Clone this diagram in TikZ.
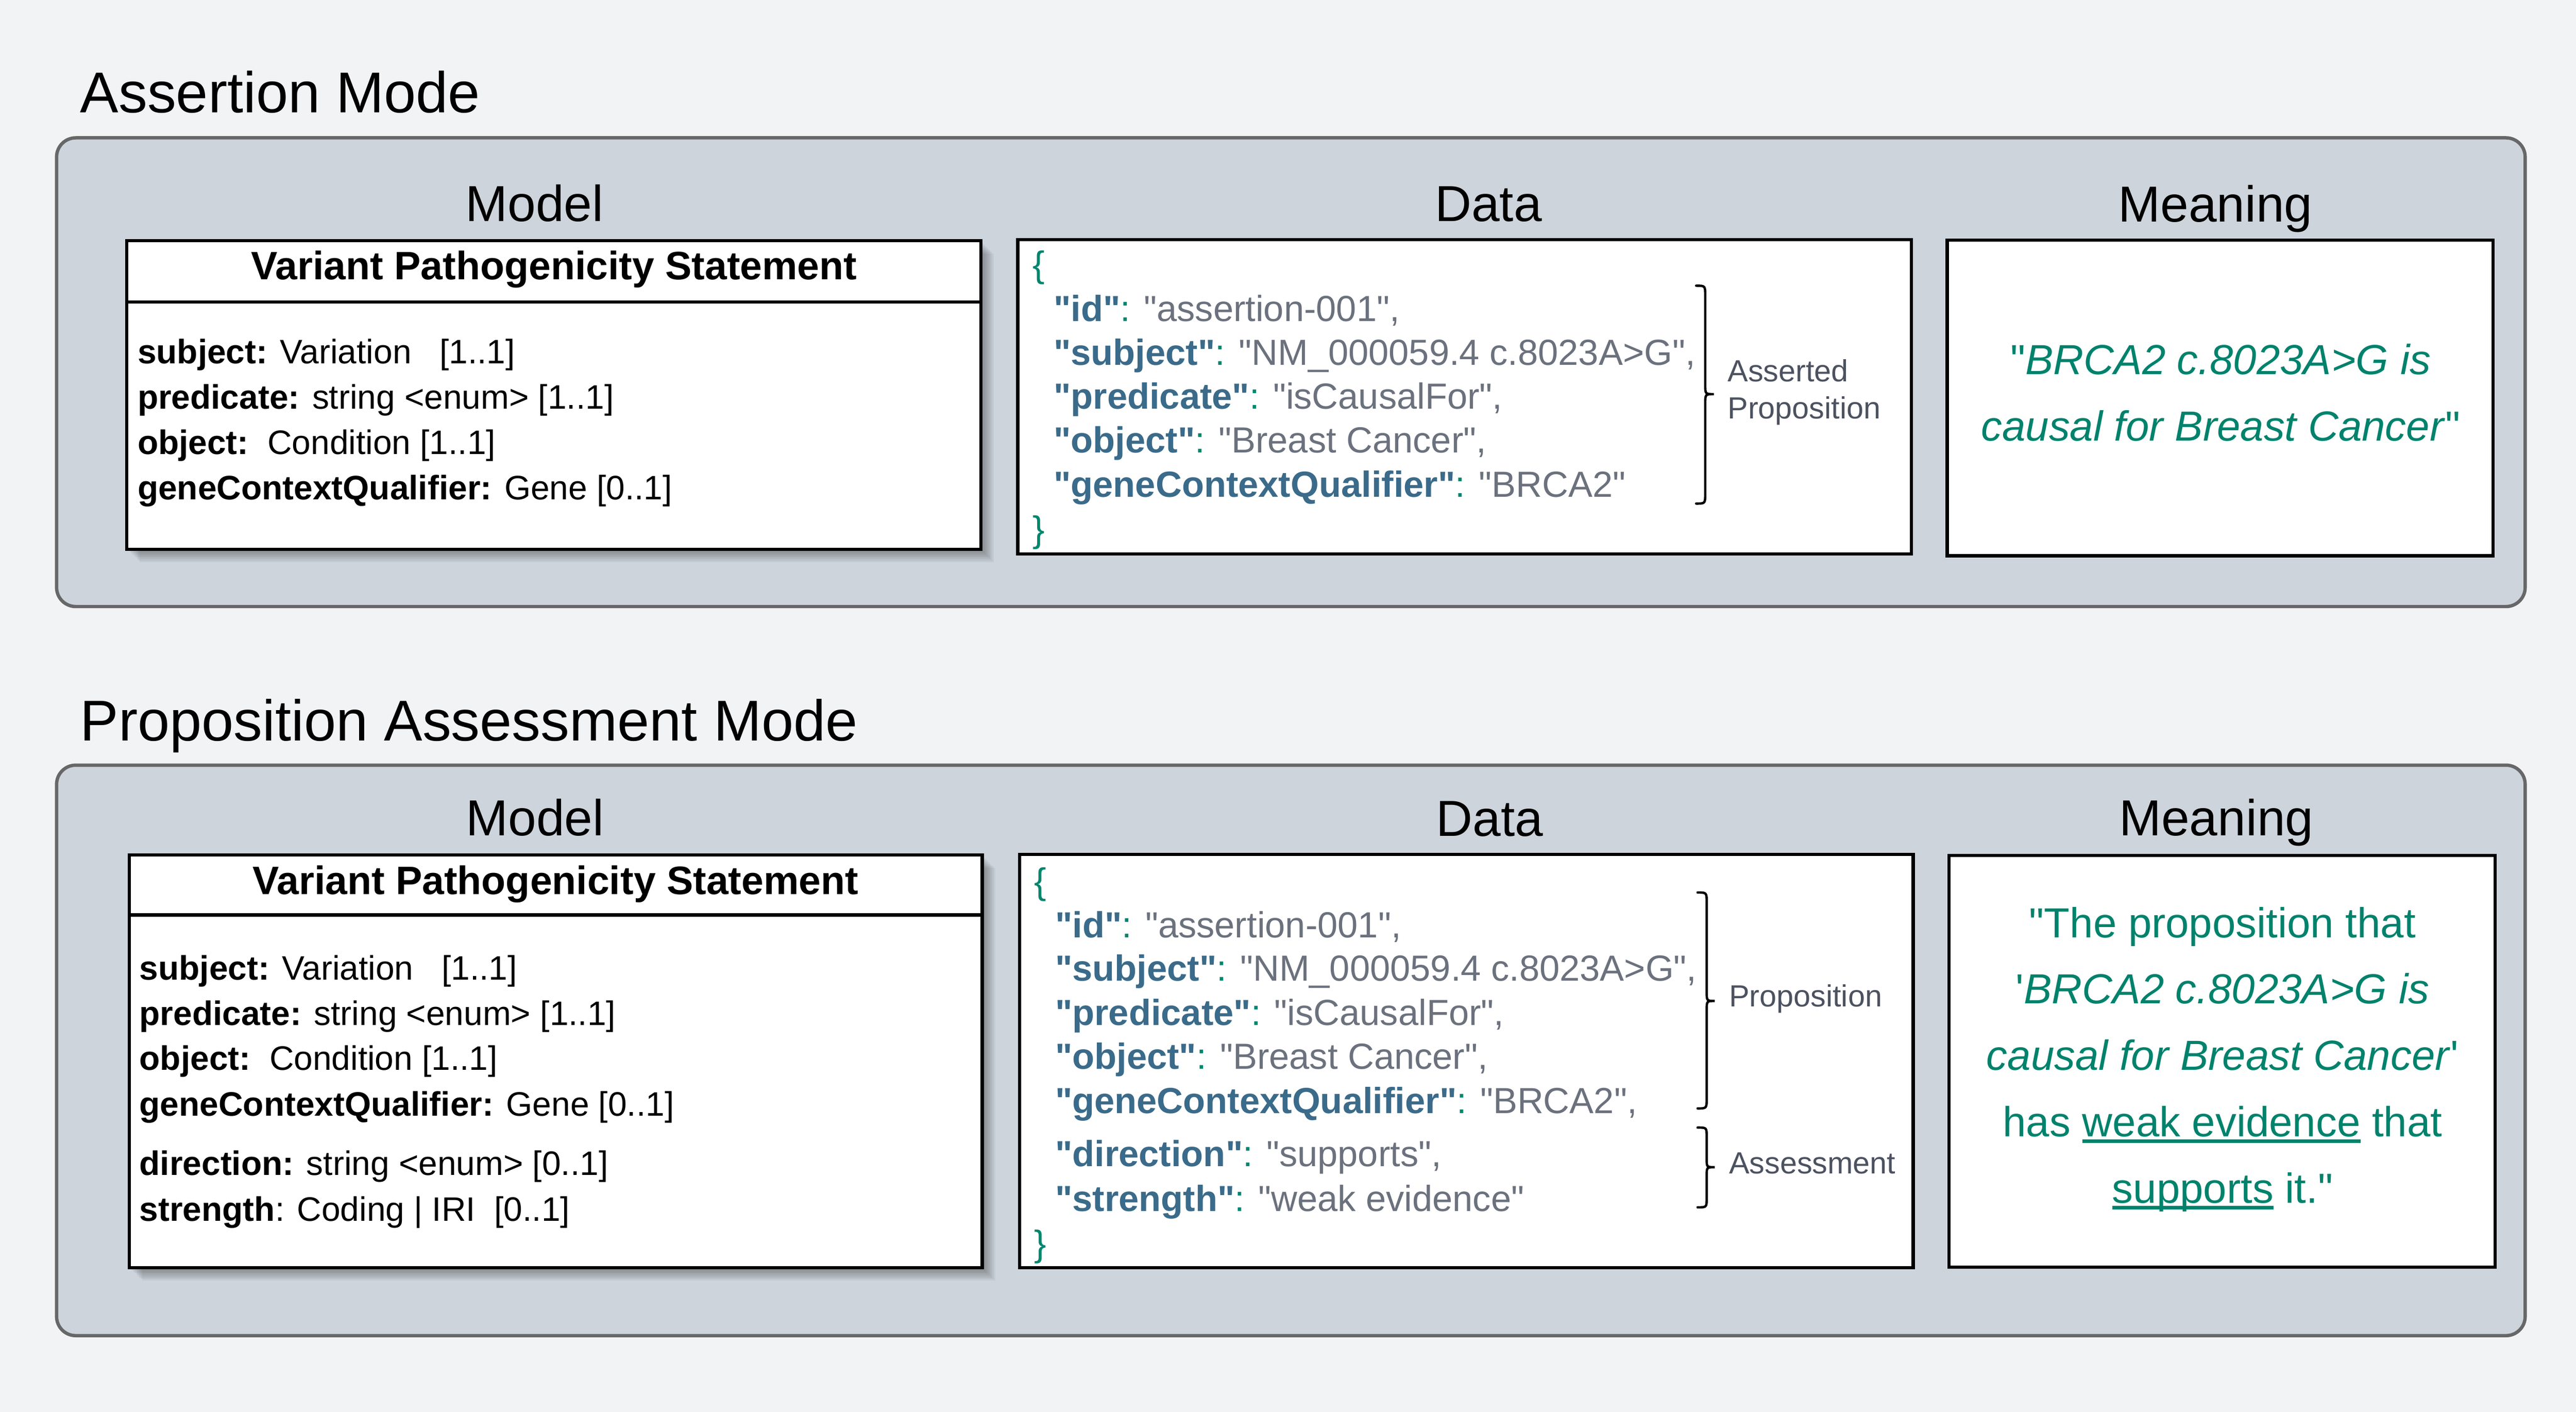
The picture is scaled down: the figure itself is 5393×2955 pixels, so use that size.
\documentclass[tikz,border=0pt]{standalone}
\usepackage{fontspec}
\newfontfamily\lsans{Liberation Sans}
\definecolor{bgc}{HTML}{F2F3F5}
\definecolor{panelfill}{HTML}{CDD4DC}
\definecolor{panelline}{HTML}{676767}
\definecolor{keyblue}{HTML}{3B6B8A}
\definecolor{jteal}{HTML}{00866E}
\definecolor{valgray}{HTML}{6B717D}
\definecolor{lblgray}{HTML}{4D5260}
\definecolor{mteal}{HTML}{00826C}
\newsavebox\ulbox
\newcommand\myul[1]{\sbox\ulbox{#1}\rlap{\rule[-13pt]{\wd\ulbox}{7pt}}\usebox\ulbox}
\newcommand\jk[1]{{\bfseries\color{keyblue}"#1"}}
\newcommand\jc{{\color{jteal}:}}
\newcommand\jv[1]{{\color{valgray}#1}}
\tikzset{
  panel/.style={draw=panelline, fill=panelfill, line width=7pt, rounded corners=40pt},
  whitebox/.style={draw=black, fill=white, line width=7pt},
  sepline/.style={draw=black, line width=7pt},
  bracel/.style={draw=black, line width=5pt, line cap=round},
  shade/.style={fill=black, opacity=0.045},
  txtbase/.style={inner sep=0pt, outer sep=0pt},
  titletxt/.style={txtbase, anchor=base west, font=\lsans\fontsize{120.5}{140}\selectfont},
  secttxt/.style={txtbase, anchor=base, font=\lsans\fontsize{106}{120}\selectfont},
  hdrtxt/.style={txtbase, anchor=base, font=\lsans\bfseries\fontsize{83}{96}\selectfont},
  bodytxt/.style={txtbase, anchor=base west, font=\lsans\fontsize{71}{86}\selectfont},
  datatxt/.style={txtbase, anchor=base west, font=\lsans\fontsize{76}{90}\selectfont},
  jbrace/.style={txtbase, anchor=base west, text=jteal, font=\lsans\fontsize{76}{90}\selectfont},
  lbltxt/.style={txtbase, anchor=base west, text=lblgray, font=\lsans\fontsize{64}{76}\selectfont},
  meantxt/.style={txtbase, anchor=base, text=mteal, font=\lsans\fontsize{88}{104}\selectfont},
}
\begin{document}
\begin{tikzpicture}[x=1pt,y=-1pt]
% background
\fill[bgc] (0,0) rectangle (5393,2955);

% ================= Assertion Mode =================
\node[titletxt] (title1) at (168,236) {Assertion Mode};
\draw[panel] (118.5,288.5) rectangle (5286.5,1269.5);

\node[secttxt] (lmodel1) at (1119,463) {Model};
\node[secttxt] (ldata1) at (3116,463) {Data};
\node[secttxt] (lmean1) at (4638,464) {Meaning};

% model box with shadow
\foreach \s in {3,6,...,27} {
  \fill[shade] ({265.5+\s},{503.5+\s}) rectangle ({2053.5+\s},{1149.5+\s});
}
\draw[whitebox] (265.5,503.5) rectangle (2053.5,1149.5);
\draw[sepline] (265.5,632) -- (2053.5,632);
\node[hdrtxt] (hdr1) at (1160,585) {Variant Pathogenicity Statement};
\node[bodytxt] (ma1) at (288,761) {\textbf{subject:} Variation\ \ \ [1..1]};
\node[bodytxt] (ma2) at (288,856) {\textbf{predicate:} string <enum> [1..1]};
\node[bodytxt] (ma3) at (288,951) {\textbf{object:}\ \ Condition [1..1]};
\node[bodytxt] (ma4) at (288,1046) {\textbf{geneContextQualifier:} Gene [0..1]};

% data box
\draw[whitebox] (2130.5,501.5) rectangle (4001.5,1159.5);
\node[jbrace] (jo1) at (2162,580) {\{};
\node[datatxt] (da1) at (2206,672) {\jk{id}\jc{} \jv{"assertion-001",}};
\node[datatxt] (da2) at (2206,764) {\jk{subject}\jc{} \jv{"NM\_000059.4 c.8023A>G",}};
\node[datatxt] (da3) at (2206,856) {\jk{predicate}\jc{} \jv{"isCausalFor",}};
\node[datatxt] (da4) at (2206,948) {\jk{object}\jc{} \jv{"Breast Cancer",}};
\node[datatxt] (da5) at (2206,1040) {\jk{geneContextQualifier}\jc{} \jv{"BRCA2"}};
\node[jbrace] (jc1) at (2162,1134) {\}};

% brace: asserted proposition
\draw[bracel] (3551,598) .. controls (3570,598) .. (3570,620) -- (3570,805)
  .. controls (3570,825) .. (3588,825) .. controls (3570,825) .. (3570,845)
  -- (3570,1032) .. controls (3570,1054) .. (3551,1054);
\node[lbltxt] (lab1) at (3617,799) {Asserted};
\node[lbltxt] (lab2) at (3617,876) {Proposition};

% meaning box
\draw[whitebox] (4076.5,502.5) rectangle (5219.5,1163.5);
\node[meantxt] (mn1) at (4649,784) {"\textit{BRCA2 c.8023A>G is}};
\node[meantxt] (mn2) at (4649,923) {\textit{causal for Breast Cancer}"};

% ================= Proposition Assessment Mode =================
\node[titletxt] (title2) at (168,1550) {Proposition Assessment Mode};
\draw[panel] (118.5,1601.5) rectangle (5286.5,2795.5);

\node[secttxt] (lmodel2) at (1120,1749) {Model};
\node[secttxt] (ldata2) at (3119,1750) {Data};
\node[secttxt] (lmean2) at (4640,1749) {Meaning};

% model box with shadow
\foreach \s in {3,6,...,27} {
  \fill[shade] ({270.5+\s},{1789.5+\s}) rectangle ({2056.5+\s},{2653.5+\s});
}
\draw[whitebox] (270.5,1789.5) rectangle (2056.5,2653.5);
\draw[sepline] (270.5,1915) -- (2056.5,1915);
\node[hdrtxt] (hdr2) at (1163,1872) {Variant Pathogenicity Statement};
\node[bodytxt] (mb1) at (292,2051) {\textbf{subject:} Variation\ \ \ [1..1]};
\node[bodytxt] (mb2) at (292,2146) {\textbf{predicate:} string <enum> [1..1]};
\node[bodytxt] (mb3) at (292,2240) {\textbf{object:}\ \ Condition [1..1]};
\node[bodytxt] (mb4) at (292,2336) {\textbf{geneContextQualifier:} Gene [0..1]};
\node[bodytxt] (mb5) at (292,2460) {\textbf{direction:} string <enum> [0..1]};
\node[bodytxt] (mb6) at (292,2556) {\textbf{strength}: Coding | IRI\ \ [0..1]};

% data box
\draw[whitebox] (2134.5,1788.5) rectangle (4005.5,2653.5);
\node[jbrace] (jo2) at (2165,1871) {\{};
\node[datatxt] (db1) at (2209,1962) {\jk{id}\jc{} \jv{"assertion-001",}};
\node[datatxt] (db2) at (2209,2053) {\jk{subject}\jc{} \jv{"NM\_000059.4 c.8023A>G",}};
\node[datatxt] (db3) at (2209,2146) {\jk{predicate}\jc{} \jv{"isCausalFor",}};
\node[datatxt] (db4) at (2209,2238) {\jk{object}\jc{} \jv{"Breast Cancer",}};
\node[datatxt] (db5) at (2209,2330) {\jk{geneContextQualifier}\jc{} \jv{"BRCA2",}};
\node[datatxt] (db6) at (2209,2441) {\jk{direction}\jc{} \jv{"supports",}};
\node[datatxt] (db7) at (2209,2535) {\jk{strength}\jc{} \jv{"weak evidence"}};
\node[jbrace] (jc2) at (2165,2629) {\}};

% brace: proposition
\draw[bracel] (3554,1868) .. controls (3573,1868) .. (3573,1890) -- (3573,2075)
  .. controls (3573,2095) .. (3590,2095) .. controls (3573,2095) .. (3573,2115)
  -- (3573,2298) .. controls (3573,2320) .. (3554,2320);
\node[lbltxt] (lab3) at (3620,2107) {Proposition};
% brace: assessment
\draw[bracel] (3554,2360) .. controls (3573,2360) .. (3573,2380) -- (3573,2425)
  .. controls (3573,2443) .. (3590,2443) .. controls (3573,2443) .. (3573,2461)
  -- (3573,2507) .. controls (3573,2527) .. (3554,2527);
\node[lbltxt] (lab4) at (3620,2456) {Assessment};

% meaning box
\draw[whitebox] (4080.5,1790.5) rectangle (5223.5,2652.5);
\node[meantxt] (mp1) at (4653,1962) {"The proposition that};
\node[meantxt] (mp2) at (4653,2101) {'\textit{BRCA2 c.8023A>G is}};
\node[meantxt] (mp3) at (4653,2240) {\textit{causal for Breast Cancer}'};
\node[meantxt] (mp4) at (4653,2379) {has \myul{weak evidence} that};
\node[meantxt] (mp5) at (4653,2518) {\myul{supports} it."};
\end{tikzpicture}
\end{document}
